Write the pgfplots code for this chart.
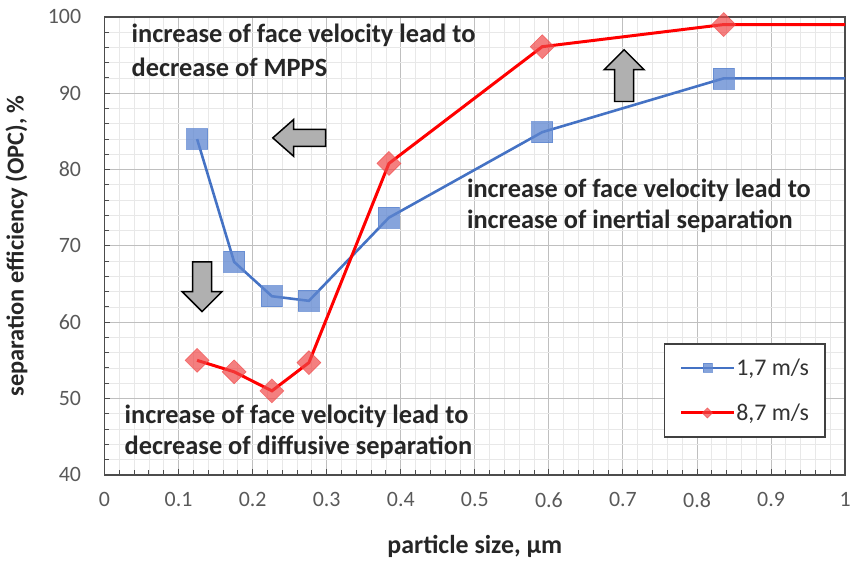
\documentclass[border=0pt]{standalone}
\usepackage{pgfplots}
\pgfplotsset{compat=1.18}
\usepackage{fontspec}
\setmainfont{Carlito}
\definecolor{eblue}{HTML}{4472C4}
\definecolor{mblue}{HTML}{5E86D0}
\definecolor{ered}{HTML}{FF0000}
\definecolor{mred}{HTML}{F04848}
\definecolor{agray}{HTML}{B0B0B0}
\definecolor{tgray}{HTML}{595959}
\begin{document}
\begin{tikzpicture}
\begin{axis}[
  width=744pt, height=460pt, scale only axis,
  xmin=0, xmax=1, ymin=40, ymax=100,
  xtick={0,0.1,0.2,0.3,0.4,0.5,0.6,0.7,0.8,0.9,1},
  ytick={40,50,60,70,80,90,100},
  minor x tick num=4, minor y tick num=4,
  grid=both,
  major grid style={color=black!25, line width=1pt},
  minor grid style={color=black!9, line width=0.8pt},
  axis line style={black!70, line width=1.6pt},
  tick align=inside, tick pos=left,
  major tick length=6pt, minor tick length=5pt,
  every tick/.style={black!70, line width=1pt},
  /pgf/number format/assume math mode=true,
  ticklabel style={font=\fontsize{22}{26}\selectfont, text=tgray},
  xticklabel style={yshift=-14pt},
  yticklabel style={xshift=-20pt},
  xlabel={\bfseries particle size, µm},
  ylabel={\bfseries separation efficiency (OPC), \%},
  xlabel style={font=\fontsize{26}{30}\selectfont, text=black!85,
    at={(axis description cs:0.5,-0.1565)}, anchor=center},
  ylabel style={font=\fontsize{24.5}{29}\selectfont, text=black!85,
    at={(axis description cs:-0.119,0.5)}, anchor=center},
  legend style={at={(0.7554,0.287)}, anchor=north west, draw=black!75, line width=1.2pt,
    font=\fontsize{24}{28}\selectfont, text=black!80, inner xsep=15pt, inner ysep=14pt,
    row sep=25pt, column sep=0pt, cells={anchor=west},
    nodes={inner sep=1pt}},
  legend cell align=left,
  legend image code/.code={
    \draw[#1, mark indices={2}] plot coordinates {(0pt,0pt) (26.5pt,0pt) (53pt,0pt)};},
  clip=false,
]
\addplot[eblue, line width=2.6pt, mark=square*, mark size=10.5pt,
  mark options={fill=mblue, draw=mblue, opacity=0.75, line width=0.6pt},
  mark indices={1,2,3,4,5,6,7}, legend image post style={mark size=4.5pt}]
  coordinates {(0.125,84) (0.175,67.9) (0.226,63.4) (0.276,62.8) (0.384,73.7) (0.591,84.9) (0.836,91.95) (1.0,91.95)};
\addlegendentry{1,7 m/s}
\addplot[ered, line width=3pt, mark=square*, mark size=8.5pt,
  mark options={rotate=45, fill=mred, draw=mred, opacity=0.7, line width=0.6pt},
  mark indices={1,2,3,4,5,6,7}, legend image post style={mark size=3.6pt}]
  coordinates {(0.125,55) (0.175,53.5) (0.226,51) (0.276,54.7) (0.384,80.8) (0.591,96.1) (0.836,99) (1.0,99)};
\addlegendentry{8,7 m/s}
% annotations
\begin{scope}[every node/.style={anchor=base west, font=\bfseries\fontsize{26.5}{30}\selectfont, text=black!85, inner sep=0pt}]
\node at (axis cs:0.0363,96.61) {increase of face velocity lead to};
\node at (axis cs:0.0363,92.17) {decrease of MPPS};
\node at (axis cs:0.4892,76.39) {increase of face velocity lead to};
\node at (axis cs:0.4892,72.22) {increase of inertial separation};
\node at (axis cs:0.0269,46.78) {increase of face velocity lead to};
\node at (axis cs:0.0269,42.61) {decrease of diffusive separation};
\end{scope}
% block arrows
\draw[fill=agray, draw=black, line width=1.5pt, line join=miter]
  (axis cs:0.2272,84.15) -- ++(21pt,18.5pt) -- ++(0pt,-10pt) -- ++(32pt,0pt) -- ++(0pt,-17pt)
  -- ++(-32pt,0pt) -- ++(0pt,-10pt) -- cycle;
\draw[fill=agray, draw=black, line width=1.5pt, line join=miter]
  (axis cs:0.1317,61.39) -- ++(-20pt,20pt) -- ++(10.5pt,0pt) -- ++(0pt,30pt) -- ++(19pt,0pt)
  -- ++(0pt,-30pt) -- ++(10.5pt,0pt) -- cycle;
\draw[fill=agray, draw=black, line width=1.5pt, line join=miter]
  (axis cs:0.7016,95.70) -- ++(-20pt,-20pt) -- ++(10.5pt,0pt) -- ++(0pt,-32pt) -- ++(19pt,0pt)
  -- ++(0pt,32pt) -- ++(10.5pt,0pt) -- cycle;
\path (rel axis cs:0,1) -- ++(0pt,17pt);
\path (rel axis cs:1,0) -- ++(5pt,0pt);
\path (rel axis cs:0,0) -- ++(-105pt,-86pt);
\end{axis}
\end{tikzpicture}
\end{document}
